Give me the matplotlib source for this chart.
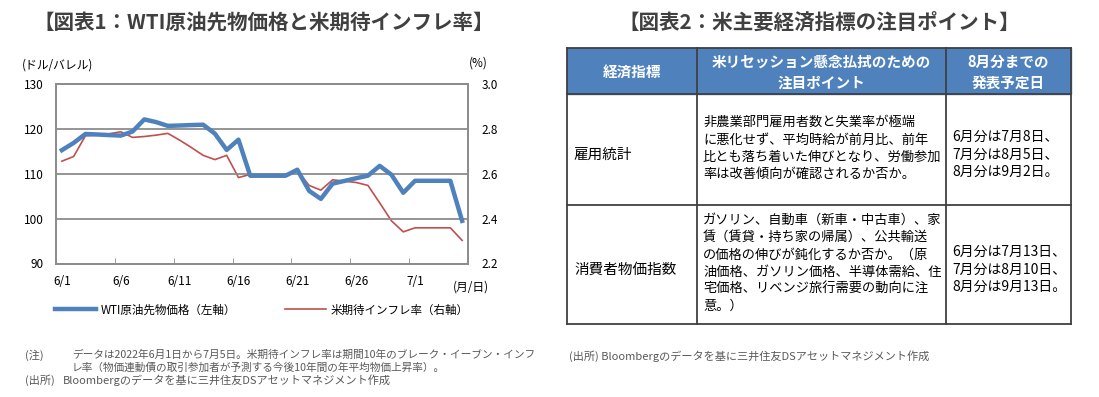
import numpy as np
import matplotlib
matplotlib.use('Agg')
import matplotlib.pyplot as plt
from matplotlib.patches import Rectangle

plt.rcParams['font.family'] = ['Noto Sans CJK JP', 'DejaVu Sans']

# daily values 6/1 - 7/5 (calendar days, holidays/weekends carried)
days = ['6/%d' % d for d in range(1, 31)] + ['7/%d' % d for d in range(1, 6)]
wti = [115.26, 116.87, 118.87, 118.75, 118.62, 118.50, 119.41, 122.11, 121.51, 120.67,
       120.75, 120.85, 120.93, 118.93, 115.31, 117.59, 109.56, 109.56, 109.56, 109.56,
       110.9, 106.2, 104.4, 107.8, 108.4, 109.0, 109.57, 111.76, 109.78, 105.76,
       108.43, 108.43, 108.43, 108.43, 99.50]
bei = [2.656, 2.677, 2.769, 2.772, 2.778, 2.787, 2.762, 2.766, 2.772, 2.78,
       2.75, 2.717, 2.682, 2.663, 2.682, 2.583, 2.597, 2.597, 2.597, 2.597,
       2.614, 2.548, 2.527, 2.573, 2.567, 2.561, 2.548, 2.47, 2.39, 2.341,
       2.359, 2.359, 2.359, 2.359, 2.303]
label_every = 5

# table contents
tbl_header = [['経済指標'], ['米リセッション懸念払拭のための', '注目ポイント'], ['8月分までの', '発表予定日']]
tbl_names = ['雇用統計', '消費者物価指数']
tbl_points = [
    ['非農業部門雇用者数と失業率が極端', 'に悪化せず、平均時給が前月比、前年',
     '比とも落ち着いた伸びとなり、労働参加', '率は改善傾向が確認されるか否か。'],
    ['ガソリン、自動車（新車・中古車）、家', '賃（賃貸・持ち家の帰属）、公共輸送',
     'の価格の伸びが鈍化するか否か。（原', '油価格、ガソリン価格、半導体需給、住',
     '宅価格、リベンジ旅行需要の動向に注', '意。）'],
]
tbl_dates = [
    ['6月分は7月8日、', '7月分は8月5日、', '8月分は9月2日。'],
    ['6月分は7月13日、', '7月分は8月10日、', '8月分は9月13日。'],
]

W, H = 1099, 397
BLUE = '#4F81BD'
RED = '#C0504D'
GRAY_TXT = '#595959'

fig = plt.figure(figsize=(W / 100, H / 100), dpi=100)

# background axes in pixel coordinates for titles, notes and table
bg = fig.add_axes([0, 0, 1, 1])
bg.set_xlim(0, W)
bg.set_ylim(H, 0)
bg.axis('off')

# ---- chart 1 ----
x0, x1, y0, y1 = 56, 468, 84, 263.5
ax = fig.add_axes([x0 / W, 1 - y1 / H, (x1 - x0) / W, (y1 - y0) / H])
ax2 = ax.twinx()
x = np.arange(len(days))
l1, = ax.plot(x, wti, color=BLUE, lw=3.2, zorder=3)
l2, = ax2.plot(x, bei, color=RED, lw=1.2, zorder=2)
ax.set_zorder(ax2.get_zorder() + 1)
ax.patch.set_visible(False)

ax.set_xlim(-0.5, len(days) - 0.5)
ax.set_ylim(90, 130)
ax2.set_ylim(2.2, 3.0)
ax.set_yticks(np.arange(90, 131, 10))
ax2.set_yticks(np.arange(2.2, 3.01, 0.2))
ax2.set_yticklabels(['%.1f' % v for v in np.arange(2.2, 3.01, 0.2)])
ax.yaxis.grid(True, color='#8c8c8c', lw=1.3)
ax.set_axisbelow(True)

ax.set_xticks(x[::label_every])
ax.set_xticklabels(days[::label_every])
ax.set_xticks(np.arange(label_every - 0.5, len(days), label_every), minor=True)
ax.tick_params(axis='x', which='major', length=0, pad=8, labelsize=8.5)
ax.tick_params(axis='x', which='minor', direction='in', length=4, color='#8c8c8c')
ax.tick_params(axis='y', length=0, pad=9, labelsize=8.5)
ax2.tick_params(axis='y', length=0, pad=10, labelsize=8.5)
for a in (ax, ax2):
    for s in a.spines.values():
        s.set_color('#8c8c8c')
        s.set_linewidth(1.3)

bg.text(22, 65, '(ドル/バレル)', fontsize=8.5, va='center', ha='left')
bg.text(488, 63, '(%)', fontsize=8.5, va='center', ha='right')
bg.text(489, 287, '(月/日)', fontsize=8.5, va='center', ha='right')

fig.legend([l1, l2], ['WTI原油先物価格（左軸）', '米期待インフレ率（右軸）'],
           loc='center', bbox_to_anchor=(262 / W, 1 - 310 / H), ncol=2, frameon=False,
           fontsize=8.3, handlelength=3.6, handletextpad=0.4, columnspacing=4.2)

bg.text(264, 22, '【図表1：WTI原油先物価格と米期待インフレ率】', fontsize=14.8, fontweight='bold',
        color='#404040', ha='center', va='center')
bg.text(25, 355, '(注)', fontsize=8, color=GRAY_TXT, va='center')
bg.text(72, 355, 'データは2022年6月1日から7月5日。米期待インフレ率は期間10年のブレーク・イーブン・インフ',
        fontsize=7.7, color=GRAY_TXT, va='center')
bg.text(72, 367.5, 'レ率（物価連動債の取引参加者が予測する今後10年間の年平均物価上昇率）。',
        fontsize=7.7, color=GRAY_TXT, va='center')
bg.text(25, 380, '(出所)', fontsize=8, color=GRAY_TXT, va='center')
bg.text(63, 380, 'Bloombergのデータを基に三井住友DSアセットマネジメント作成',
        fontsize=8, color=GRAY_TXT, va='center')

# ---- chart 2 (table) ----
bg.text(819, 22, '【図表2：米主要経済指標の注目ポイント】', fontsize=14.8, fontweight='bold',
        color='#404040', ha='center', va='center')
cx = [567, 697, 945.5, 1071]
ry = [47.5, 94, 205, 324]
bg.add_patch(Rectangle((cx[0], ry[0]), cx[-1] - cx[0], ry[1] - ry[0], color=BLUE, zorder=1))
for xv in cx:
    bg.plot([xv, xv], [ry[0], ry[-1]], color='#404040', lw=1.3, zorder=2)
for yv in ry:
    bg.plot([cx[0], cx[-1]], [yv, yv], color='#404040', lw=1.3, zorder=2)

hmid = (ry[0] + ry[1]) / 2 + 1.5
for i, lines in enumerate(tbl_header):
    start = hmid - 20.6 * (len(lines) - 1) / 2
    for k, s in enumerate(lines):
        bg.text((cx[i] + cx[i + 1]) / 2, start + k * 20.6, s, color='white', fontsize=10.5,
                fontweight='bold', ha='center', va='center', zorder=3)

line_h = 17.2
for r in range(2):
    top, bot = ry[r + 1], ry[r + 2]
    mid = (top + bot) / 2
    bg.text(cx[0] + 7, mid + 5, tbl_names[r], fontsize=10.5, ha='left', va='center', zorder=3)
    pts = tbl_points[r]
    start = mid - 1 - line_h * (len(pts) - 1) / 2
    for k, s in enumerate(pts):
        bg.text(cx[1] + 6, start + k * line_h, s, fontsize=9.5, ha='left', va='center', zorder=3)
    ds = tbl_dates[r]
    start = mid + 5 - line_h * (len(ds) - 1) / 2
    for k, s in enumerate(ds):
        bg.text(cx[2] + 7, start + k * line_h, s, fontsize=10, ha='left', va='center', zorder=3)

bg.text(569, 356, '(出所) Bloombergのデータを基に三井住友DSアセットマネジメント作成',
        fontsize=8, color=GRAY_TXT, va='center')

fig.savefig('out.png', dpi=100)
